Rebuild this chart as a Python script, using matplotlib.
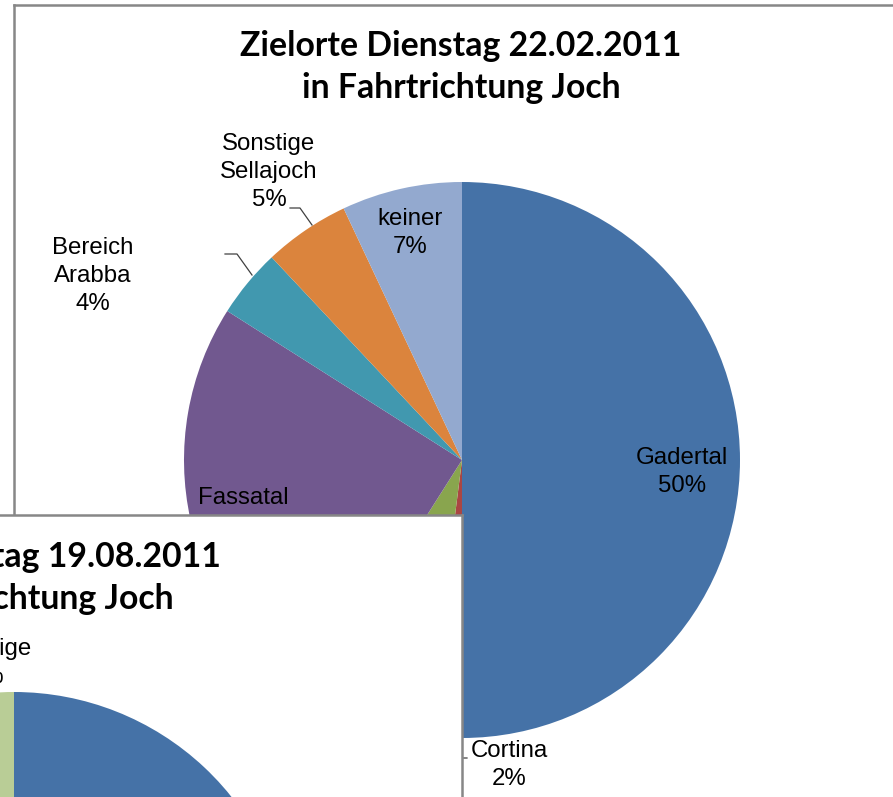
import matplotlib.pyplot as plt

W, H = 893, 797

# Hauptdiagramm: Dienstag 22.02.2011
main_labels = ["Gadertal", "Cortina", "Bereich Cortina", "Fassatal",
               "Bereich Arabba", "Sonstige Sellajoch", "keiner"]
main_values = [50, 2, 7, 25, 4, 5, 7]
main_colors = ["#4572A7", "#AA4643", "#89A54E", "#71588F",
               "#4198AF", "#DB843D", "#93A9CF"]

# Zweites Diagramm (verdeckt): Freitag 19.08.2011
over_labels = ["Gadertal", "Cortina", "Fassatal", "Bereich Arabba",
               "Sonstige Sellajoch", "keiner", "Sonstige"]
over_values = [48, 3, 24, 6, 8, 8, 3]
over_colors = ["#4572A7", "#AA4643", "#71588F", "#4198AF",
               "#DB843D", "#93A9CF", "#B9CD96"]

BORDER = "#878787"
LABEL_FONT = dict(family="Liberation Sans", fontsize=17.3, color="black",
                  ha="center", va="center", linespacing=1.38)
TITLE_FONT = dict(family="Lato", fontweight="bold", fontsize=24.3,
                  color="black", ha="center", va="center", linespacing=1.4)

fig = plt.figure(figsize=(W / 100, H / 100), dpi=100)


def chart_box(left, top, width, height):
    ax = fig.add_axes([left / W, (H - top - height) / H, width / W, height / H])
    ax.set_facecolor("white")
    return ax


def finish_box(ax, width, height):
    ax.set_xlim(0, width)
    ax.set_ylim(-height, 0)
    ax.set_aspect("auto")
    ax.set_xticks([])
    ax.set_yticks([])
    ax.set_frame_on(True)
    for s in ax.spines.values():
        s.set_color(BORDER)
        s.set_linewidth(1.8)


def draw_pie(ax, values, colors, box_w, box_h):
    ax.pie(values, colors=colors, startangle=90, counterclock=False,
           center=(448, -455), radius=278, frame=True,
           wedgeprops=dict(linewidth=0))
    finish_box(ax, box_w, box_h)


def txt(ax, left, top, x, y, s, **kw):
    ax.text(x - left, -(y - top), s, **kw)


def leader(ax, left, top, xs, ys):
    ax.plot([x - left for x in xs], [-(y - top) for y in ys],
            color="#404040", lw=0.9)


# --- main chart ---
L1, T1, BW, BH = 14, 5, 896, 900
ax1 = chart_box(L1, T1, BW, BH)
draw_pie(ax1, main_values, main_colors, BW, BH)
txt(ax1, L1, T1, 461, 67, "Zielorte Dienstag 22.02.2011\nin Fahrtrichtung Joch", **TITLE_FONT)

pct = {lab: f"{v}%" for lab, v in zip(main_labels, main_values)}
txt(ax1, L1, T1, 682, 472, f"Gadertal\n{pct['Gadertal']}", **LABEL_FONT)
txt(ax1, L1, T1, 410, 233, f"keiner\n{pct['keiner']}", **LABEL_FONT)
txt(ax1, L1, T1, 269, 172, f"Sonstige\nSellajoch\n{pct['Sonstige Sellajoch']}", **LABEL_FONT)
txt(ax1, L1, T1, 93, 276, f"Bereich\nArabba\n{pct['Bereich Arabba']}", **LABEL_FONT)
txt(ax1, L1, T1, 243, 512, f"Fassatal\n{pct['Fassatal']}", **LABEL_FONT)
txt(ax1, L1, T1, 509, 765, f"Cortina\n{pct['Cortina']}", **LABEL_FONT)
leader(ax1, L1, T1, [290, 300, 312], [208, 208, 225])
leader(ax1, L1, T1, [225, 237, 252], [254, 254, 275])
leader(ax1, L1, T1, [452, 458, 467], [735, 758, 758])

# --- second chart, lying on top ---
L2, T2 = -434, 515
ax2 = chart_box(L2, T2, BW, BH)
draw_pie(ax2, over_values, over_colors, BW, BH)
txt(ax2, L2, T2, 14, 578, "Zielorte Freitag 19.08.2011\nin Fahrtrichtung Joch", **TITLE_FONT)
txt(ax2, L2, T2, -14, 663, f"Sonstige\n{over_values[-1]}%", **LABEL_FONT)

fig.savefig("out.png", dpi=100)
